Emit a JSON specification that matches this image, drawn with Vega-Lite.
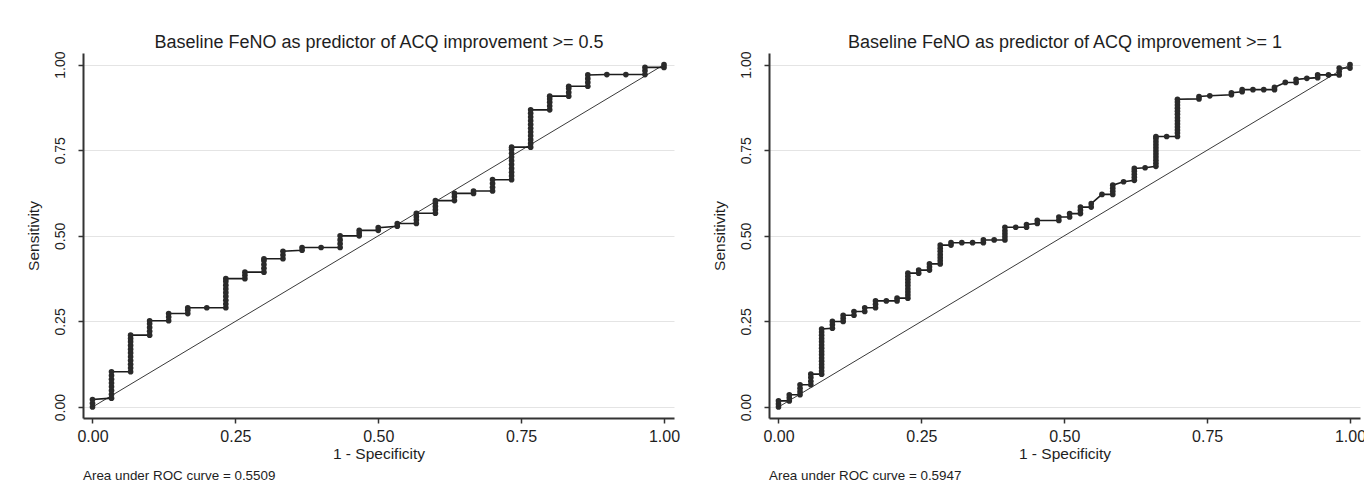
{
  "$schema": "https://vega.github.io/schema/vega-lite/v6.json",
  "background": "white",
  "padding": {"left": 26, "top": 33, "right": 0, "bottom": 0},
  "config": {
    "font": "Liberation Sans",
    "view": {"stroke": null},
    "concat": {"spacing": 32},
    "axis": {
      "domainColor": "#333333",
      "domainWidth": 2,
      "tickColor": "#333333",
      "tickWidth": 1.5,
      "tickSize": 5,
      "gridColor": "#e4e4e4",
      "gridWidth": 1,
      "labelColor": "#1e1e1e",
      "titleColor": "#1e1e1e",
      "labelFont": "Liberation Sans",
      "titleFont": "Liberation Sans",
      "titleFontWeight": "normal",
      "titleFontSize": 15.5
    },
    "title": {"font": "Liberation Sans", "fontWeight": "normal", "color": "#1e1e1e"}
  },
  "datasets": {
    "diagonal": [{"fpr": 0, "sens": 0}, {"fpr": 1, "sens": 1}],
    "acq05": [
      {"fpr": 0, "sens": 0}, {"fpr": 0, "sens": 0.011}, {"fpr": 0, "sens": 0.022},
      {"fpr": 0.0333, "sens": 0.026}, {"fpr": 0.0333, "sens": 0.037}, {"fpr": 0.0333, "sens": 0.048}, {"fpr": 0.0333, "sens": 0.059}, {"fpr": 0.0333, "sens": 0.07}, {"fpr": 0.0333, "sens": 0.081}, {"fpr": 0.0333, "sens": 0.092}, {"fpr": 0.0333, "sens": 0.103},
      {"fpr": 0.0667, "sens": 0.103}, {"fpr": 0.0667, "sens": 0.114}, {"fpr": 0.0667, "sens": 0.125}, {"fpr": 0.0667, "sens": 0.136}, {"fpr": 0.0667, "sens": 0.147}, {"fpr": 0.0667, "sens": 0.158}, {"fpr": 0.0667, "sens": 0.169}, {"fpr": 0.0667, "sens": 0.18}, {"fpr": 0.0667, "sens": 0.191}, {"fpr": 0.0667, "sens": 0.2}, {"fpr": 0.0667, "sens": 0.21},
      {"fpr": 0.1, "sens": 0.21}, {"fpr": 0.1, "sens": 0.221}, {"fpr": 0.1, "sens": 0.232}, {"fpr": 0.1, "sens": 0.243}, {"fpr": 0.1, "sens": 0.252},
      {"fpr": 0.1333, "sens": 0.252}, {"fpr": 0.1333, "sens": 0.263}, {"fpr": 0.1333, "sens": 0.273},
      {"fpr": 0.1667, "sens": 0.273}, {"fpr": 0.1667, "sens": 0.283}, {"fpr": 0.1667, "sens": 0.29},
      {"fpr": 0.2, "sens": 0.29},
      {"fpr": 0.2333, "sens": 0.29}, {"fpr": 0.2333, "sens": 0.301}, {"fpr": 0.2333, "sens": 0.312}, {"fpr": 0.2333, "sens": 0.323}, {"fpr": 0.2333, "sens": 0.334}, {"fpr": 0.2333, "sens": 0.345}, {"fpr": 0.2333, "sens": 0.356}, {"fpr": 0.2333, "sens": 0.367}, {"fpr": 0.2333, "sens": 0.375},
      {"fpr": 0.2667, "sens": 0.375}, {"fpr": 0.2667, "sens": 0.385}, {"fpr": 0.2667, "sens": 0.394},
      {"fpr": 0.3, "sens": 0.394}, {"fpr": 0.3, "sens": 0.405}, {"fpr": 0.3, "sens": 0.416}, {"fpr": 0.3, "sens": 0.427}, {"fpr": 0.3, "sens": 0.433},
      {"fpr": 0.3333, "sens": 0.433}, {"fpr": 0.3333, "sens": 0.444}, {"fpr": 0.3333, "sens": 0.455},
      {"fpr": 0.3667, "sens": 0.458}, {"fpr": 0.3667, "sens": 0.466},
      {"fpr": 0.4, "sens": 0.466},
      {"fpr": 0.4333, "sens": 0.466}, {"fpr": 0.4333, "sens": 0.477}, {"fpr": 0.4333, "sens": 0.488}, {"fpr": 0.4333, "sens": 0.5},
      {"fpr": 0.4667, "sens": 0.5}, {"fpr": 0.4667, "sens": 0.508}, {"fpr": 0.4667, "sens": 0.516},
      {"fpr": 0.5, "sens": 0.516}, {"fpr": 0.5, "sens": 0.524},
      {"fpr": 0.5333, "sens": 0.528}, {"fpr": 0.5333, "sens": 0.536},
      {"fpr": 0.5667, "sens": 0.536}, {"fpr": 0.5667, "sens": 0.546}, {"fpr": 0.5667, "sens": 0.556}, {"fpr": 0.5667, "sens": 0.566},
      {"fpr": 0.6, "sens": 0.566}, {"fpr": 0.6, "sens": 0.576}, {"fpr": 0.6, "sens": 0.586}, {"fpr": 0.6, "sens": 0.596}, {"fpr": 0.6, "sens": 0.603},
      {"fpr": 0.6333, "sens": 0.603}, {"fpr": 0.6333, "sens": 0.614}, {"fpr": 0.6333, "sens": 0.624},
      {"fpr": 0.6667, "sens": 0.624}, {"fpr": 0.6667, "sens": 0.631},
      {"fpr": 0.7, "sens": 0.631}, {"fpr": 0.7, "sens": 0.642}, {"fpr": 0.7, "sens": 0.653}, {"fpr": 0.7, "sens": 0.664},
      {"fpr": 0.7333, "sens": 0.664}, {"fpr": 0.7333, "sens": 0.675}, {"fpr": 0.7333, "sens": 0.686}, {"fpr": 0.7333, "sens": 0.697}, {"fpr": 0.7333, "sens": 0.708}, {"fpr": 0.7333, "sens": 0.719}, {"fpr": 0.7333, "sens": 0.73}, {"fpr": 0.7333, "sens": 0.741}, {"fpr": 0.7333, "sens": 0.752}, {"fpr": 0.7333, "sens": 0.759},
      {"fpr": 0.7667, "sens": 0.759}, {"fpr": 0.7667, "sens": 0.77}, {"fpr": 0.7667, "sens": 0.781}, {"fpr": 0.7667, "sens": 0.792}, {"fpr": 0.7667, "sens": 0.803}, {"fpr": 0.7667, "sens": 0.814}, {"fpr": 0.7667, "sens": 0.825}, {"fpr": 0.7667, "sens": 0.836}, {"fpr": 0.7667, "sens": 0.847}, {"fpr": 0.7667, "sens": 0.858}, {"fpr": 0.7667, "sens": 0.868},
      {"fpr": 0.8, "sens": 0.868}, {"fpr": 0.8, "sens": 0.879}, {"fpr": 0.8, "sens": 0.89}, {"fpr": 0.8, "sens": 0.9}, {"fpr": 0.8, "sens": 0.908},
      {"fpr": 0.8333, "sens": 0.908}, {"fpr": 0.8333, "sens": 0.919}, {"fpr": 0.8333, "sens": 0.93}, {"fpr": 0.8333, "sens": 0.937},
      {"fpr": 0.8667, "sens": 0.937}, {"fpr": 0.8667, "sens": 0.948}, {"fpr": 0.8667, "sens": 0.959}, {"fpr": 0.8667, "sens": 0.97},
      {"fpr": 0.9, "sens": 0.971},
      {"fpr": 0.9333, "sens": 0.971},
      {"fpr": 0.9667, "sens": 0.971}, {"fpr": 0.9667, "sens": 0.982}, {"fpr": 0.9667, "sens": 0.992},
      {"fpr": 1, "sens": 0.992}, {"fpr": 1, "sens": 1}
    ],
    "acq1": [
      {"fpr": 0, "sens": 0}, {"fpr": 0, "sens": 0.009}, {"fpr": 0, "sens": 0.018},
      {"fpr": 0.0189, "sens": 0.018}, {"fpr": 0.0189, "sens": 0.027}, {"fpr": 0.0189, "sens": 0.036},
      {"fpr": 0.0377, "sens": 0.036}, {"fpr": 0.0377, "sens": 0.045}, {"fpr": 0.0377, "sens": 0.055}, {"fpr": 0.0377, "sens": 0.065},
      {"fpr": 0.0566, "sens": 0.065}, {"fpr": 0.0566, "sens": 0.075}, {"fpr": 0.0566, "sens": 0.086}, {"fpr": 0.0566, "sens": 0.096},
      {"fpr": 0.0755, "sens": 0.096}, {"fpr": 0.0755, "sens": 0.105}, {"fpr": 0.0755, "sens": 0.115}, {"fpr": 0.0755, "sens": 0.124}, {"fpr": 0.0755, "sens": 0.134}, {"fpr": 0.0755, "sens": 0.143}, {"fpr": 0.0755, "sens": 0.153}, {"fpr": 0.0755, "sens": 0.162}, {"fpr": 0.0755, "sens": 0.172}, {"fpr": 0.0755, "sens": 0.181}, {"fpr": 0.0755, "sens": 0.191}, {"fpr": 0.0755, "sens": 0.2}, {"fpr": 0.0755, "sens": 0.21}, {"fpr": 0.0755, "sens": 0.219}, {"fpr": 0.0755, "sens": 0.228},
      {"fpr": 0.0943, "sens": 0.23}, {"fpr": 0.0943, "sens": 0.24}, {"fpr": 0.0943, "sens": 0.25},
      {"fpr": 0.1132, "sens": 0.25}, {"fpr": 0.1132, "sens": 0.259}, {"fpr": 0.1132, "sens": 0.268},
      {"fpr": 0.1321, "sens": 0.268}, {"fpr": 0.1321, "sens": 0.279},
      {"fpr": 0.1509, "sens": 0.279}, {"fpr": 0.1509, "sens": 0.29},
      {"fpr": 0.1698, "sens": 0.29}, {"fpr": 0.1698, "sens": 0.3}, {"fpr": 0.1698, "sens": 0.31},
      {"fpr": 0.1887, "sens": 0.31},
      {"fpr": 0.2075, "sens": 0.31}, {"fpr": 0.2075, "sens": 0.318},
      {"fpr": 0.2264, "sens": 0.318}, {"fpr": 0.2264, "sens": 0.327}, {"fpr": 0.2264, "sens": 0.336}, {"fpr": 0.2264, "sens": 0.345}, {"fpr": 0.2264, "sens": 0.355}, {"fpr": 0.2264, "sens": 0.364}, {"fpr": 0.2264, "sens": 0.373}, {"fpr": 0.2264, "sens": 0.382}, {"fpr": 0.2264, "sens": 0.391},
      {"fpr": 0.2453, "sens": 0.391}, {"fpr": 0.2453, "sens": 0.4},
      {"fpr": 0.2642, "sens": 0.4}, {"fpr": 0.2642, "sens": 0.409}, {"fpr": 0.2642, "sens": 0.418},
      {"fpr": 0.283, "sens": 0.418}, {"fpr": 0.283, "sens": 0.427}, {"fpr": 0.283, "sens": 0.436}, {"fpr": 0.283, "sens": 0.445}, {"fpr": 0.283, "sens": 0.455}, {"fpr": 0.283, "sens": 0.464}, {"fpr": 0.283, "sens": 0.473},
      {"fpr": 0.3019, "sens": 0.473}, {"fpr": 0.3019, "sens": 0.48},
      {"fpr": 0.3208, "sens": 0.48},
      {"fpr": 0.3396, "sens": 0.48},
      {"fpr": 0.3585, "sens": 0.48}, {"fpr": 0.3585, "sens": 0.488},
      {"fpr": 0.3774, "sens": 0.488},
      {"fpr": 0.3962, "sens": 0.488}, {"fpr": 0.3962, "sens": 0.497}, {"fpr": 0.3962, "sens": 0.506}, {"fpr": 0.3962, "sens": 0.515}, {"fpr": 0.3962, "sens": 0.525},
      {"fpr": 0.4151, "sens": 0.525},
      {"fpr": 0.434, "sens": 0.525}, {"fpr": 0.434, "sens": 0.533},
      {"fpr": 0.4528, "sens": 0.536}, {"fpr": 0.4528, "sens": 0.545},
      {"fpr": 0.4906, "sens": 0.545}, {"fpr": 0.4906, "sens": 0.555},
      {"fpr": 0.5094, "sens": 0.555}, {"fpr": 0.5094, "sens": 0.565},
      {"fpr": 0.5283, "sens": 0.565}, {"fpr": 0.5283, "sens": 0.575}, {"fpr": 0.5283, "sens": 0.584},
      {"fpr": 0.5472, "sens": 0.584}, {"fpr": 0.5472, "sens": 0.594},
      {"fpr": 0.566, "sens": 0.621},
      {"fpr": 0.5849, "sens": 0.621}, {"fpr": 0.5849, "sens": 0.63}, {"fpr": 0.5849, "sens": 0.639}, {"fpr": 0.5849, "sens": 0.648},
      {"fpr": 0.6038, "sens": 0.658},
      {"fpr": 0.6226, "sens": 0.662}, {"fpr": 0.6226, "sens": 0.671}, {"fpr": 0.6226, "sens": 0.68}, {"fpr": 0.6226, "sens": 0.689}, {"fpr": 0.6226, "sens": 0.697},
      {"fpr": 0.6415, "sens": 0.699},
      {"fpr": 0.6604, "sens": 0.703}, {"fpr": 0.6604, "sens": 0.712}, {"fpr": 0.6604, "sens": 0.721}, {"fpr": 0.6604, "sens": 0.73}, {"fpr": 0.6604, "sens": 0.739}, {"fpr": 0.6604, "sens": 0.748}, {"fpr": 0.6604, "sens": 0.757}, {"fpr": 0.6604, "sens": 0.766}, {"fpr": 0.6604, "sens": 0.775}, {"fpr": 0.6604, "sens": 0.784}, {"fpr": 0.6604, "sens": 0.79},
      {"fpr": 0.6792, "sens": 0.79},
      {"fpr": 0.6981, "sens": 0.79}, {"fpr": 0.6981, "sens": 0.8}, {"fpr": 0.6981, "sens": 0.809}, {"fpr": 0.6981, "sens": 0.818}, {"fpr": 0.6981, "sens": 0.827}, {"fpr": 0.6981, "sens": 0.836}, {"fpr": 0.6981, "sens": 0.845}, {"fpr": 0.6981, "sens": 0.855}, {"fpr": 0.6981, "sens": 0.864}, {"fpr": 0.6981, "sens": 0.873}, {"fpr": 0.6981, "sens": 0.882}, {"fpr": 0.6981, "sens": 0.891}, {"fpr": 0.6981, "sens": 0.899},
      {"fpr": 0.7358, "sens": 0.9}, {"fpr": 0.7358, "sens": 0.907},
      {"fpr": 0.7547, "sens": 0.909},
      {"fpr": 0.7925, "sens": 0.912}, {"fpr": 0.7925, "sens": 0.918},
      {"fpr": 0.8113, "sens": 0.921}, {"fpr": 0.8113, "sens": 0.927},
      {"fpr": 0.8302, "sens": 0.927},
      {"fpr": 0.8491, "sens": 0.927},
      {"fpr": 0.8679, "sens": 0.927}, {"fpr": 0.8679, "sens": 0.934},
      {"fpr": 0.8868, "sens": 0.948},
      {"fpr": 0.9057, "sens": 0.948}, {"fpr": 0.9057, "sens": 0.957},
      {"fpr": 0.9245, "sens": 0.96},
      {"fpr": 0.9434, "sens": 0.962}, {"fpr": 0.9434, "sens": 0.97},
      {"fpr": 0.9623, "sens": 0.97},
      {"fpr": 0.9811, "sens": 0.97}, {"fpr": 0.9811, "sens": 0.98}, {"fpr": 0.9811, "sens": 0.99},
      {"fpr": 1, "sens": 0.99}, {"fpr": 1, "sens": 1}
    ]
  },
  "hconcat": [
    {
      "width": 591,
      "height": 365,
      "title": {"text": "Area under ROC curve = 0.5509", "orient": "bottom", "anchor": "start", "frame": "group", "fontSize": 13.4, "offset": 7},
      "resolve": {"axis": {"x": "independent"}},
      "layer": [
        {
          "data": {"name": "diagonal"},
          "mark": {"type": "line", "color": "#3a3a3a", "strokeWidth": 1},
          "encoding": {
            "x": {"field": "fpr", "type": "quantitative", "scale": {"domain": [-0.0166, 1.0175], "nice": false, "zero": false},
                  "axis": {"orient": "top", "title": "Baseline FeNO as predictor of ACQ improvement >= 0.5", "titleFontSize": 18, "titlePadding": 2, "labels": false, "ticks": false, "domain": false, "grid": false}},
            "y": {"field": "sens", "type": "quantitative", "scale": {"domain": [-0.032, 1.034], "nice": false, "zero": false},
                  "axis": {"title": "Sensitivity", "values": [0, 0.25, 0.5, 0.75, 1], "format": ".2f", "labelAngle": -90, "labelAlign": "center", "labelBaseline": "bottom", "labelFontSize": 14, "labelPadding": 11, "titlePadding": 12}}
          }
        },
        {
          "data": {"name": "acq05"},
          "mark": {"type": "line", "color": "#1c1c1c", "strokeWidth": 1.6, "point": {"filled": true, "size": 32, "color": "#2a2a2a", "opacity": 1}},
          "encoding": {
            "x": {"field": "fpr", "type": "quantitative", "scale": {"domain": [-0.0166, 1.0175], "nice": false, "zero": false},
                  "axis": {"title": "1 - Specificity", "values": [0, 0.25, 0.5, 0.75, 1], "format": ".2f", "labelFontSize": 16, "labelPadding": 5, "titlePadding": 2}},
            "y": {"field": "sens", "type": "quantitative", "scale": {"domain": [-0.032, 1.034], "nice": false, "zero": false},
                  "axis": {"title": "Sensitivity", "values": [0, 0.25, 0.5, 0.75, 1], "format": ".2f", "labelAngle": -90, "labelAlign": "center", "labelBaseline": "bottom", "labelFontSize": 14, "labelPadding": 11, "titlePadding": 12}},
            "order": [{"field": "fpr", "type": "quantitative"}, {"field": "sens", "type": "quantitative"}]
          }
        }
      ]
    },
    {
      "width": 591,
      "height": 365,
      "title": {"text": "Area under ROC curve = 0.5947", "orient": "bottom", "anchor": "start", "frame": "group", "fontSize": 13.4, "offset": 7},
      "resolve": {"axis": {"x": "independent"}},
      "layer": [
        {
          "data": {"name": "diagonal"},
          "mark": {"type": "line", "color": "#3a3a3a", "strokeWidth": 1},
          "encoding": {
            "x": {"field": "fpr", "type": "quantitative", "scale": {"domain": [-0.0166, 1.0175], "nice": false, "zero": false},
                  "axis": {"orient": "top", "title": "Baseline FeNO as predictor of ACQ improvement >= 1", "titleFontSize": 18, "titlePadding": 2, "labels": false, "ticks": false, "domain": false, "grid": false}},
            "y": {"field": "sens", "type": "quantitative", "scale": {"domain": [-0.032, 1.034], "nice": false, "zero": false},
                  "axis": {"title": "Sensitivity", "values": [0, 0.25, 0.5, 0.75, 1], "format": ".2f", "labelAngle": -90, "labelAlign": "center", "labelBaseline": "bottom", "labelFontSize": 14, "labelPadding": 11, "titlePadding": 12}}
          }
        },
        {
          "data": {"name": "acq1"},
          "mark": {"type": "line", "color": "#1c1c1c", "strokeWidth": 1.6, "point": {"filled": true, "size": 32, "color": "#2a2a2a", "opacity": 1}},
          "encoding": {
            "x": {"field": "fpr", "type": "quantitative", "scale": {"domain": [-0.0166, 1.0175], "nice": false, "zero": false},
                  "axis": {"title": "1 - Specificity", "values": [0, 0.25, 0.5, 0.75, 1], "format": ".2f", "labelFontSize": 16, "labelPadding": 5, "titlePadding": 2}},
            "y": {"field": "sens", "type": "quantitative", "scale": {"domain": [-0.032, 1.034], "nice": false, "zero": false},
                  "axis": {"title": "Sensitivity", "values": [0, 0.25, 0.5, 0.75, 1], "format": ".2f", "labelAngle": -90, "labelAlign": "center", "labelBaseline": "bottom", "labelFontSize": 14, "labelPadding": 11, "titlePadding": 12}},
            "order": [{"field": "fpr", "type": "quantitative"}, {"field": "sens", "type": "quantitative"}]
          }
        }
      ]
    }
  ]
}
